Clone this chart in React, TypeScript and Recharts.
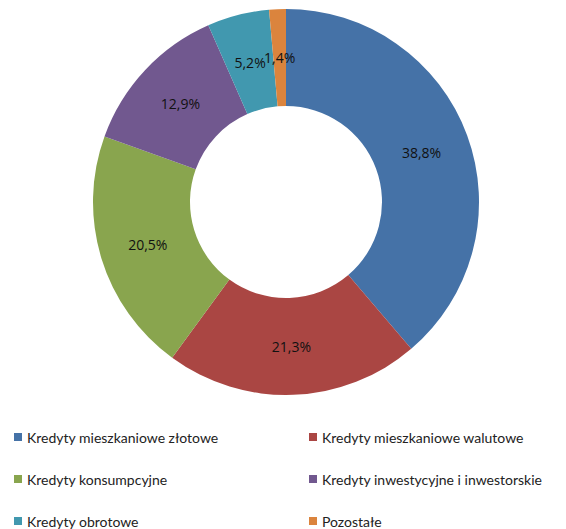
import { PieChart, Pie, Cell } from 'recharts';

const categories = [
  'Kredyty mieszkaniowe złotowe',
  'Kredyty mieszkaniowe walutowe',
  'Kredyty konsumpcyjne',
  'Kredyty inwestycyjne i inwestorskie',
  'Kredyty obrotowe',
  'Pozostałe',
];
const shares = [38.8, 21.3, 20.5, 12.9, 5.2, 1.4];
const colors = ['#4572A7', '#AA4643', '#89A54E', '#71588F', '#4198AF', '#DB843D'];

const data = categories.map((name, i) => ({ name, value: shares[i] }));

const RAD = Math.PI / 180;

const renderLabel = (p: any) => {
  const r = (p.innerRadius + p.outerRadius) / 2;
  const x = p.cx + r * Math.cos(-p.midAngle * RAD);
  const y = p.cy + r * Math.sin(-p.midAngle * RAD);
  return (
    <text
      x={x}
      y={y}
      textAnchor="middle"
      dominantBaseline="central"
      fill="#111"
      fontSize={14}
      fontFamily="'Open Sans', sans-serif"
    >
      {p.value.toFixed(1).replace('.', ',')}%
    </text>
  );
};

export default function App() {
  return (
    <div style={{ position: 'absolute', left: 0, top: 0, width: 566, height: 529, background: '#fff' }}>
      <PieChart width={566} height={410} margin={{ top: 0, right: 0, bottom: 0, left: 0 }}>
        <Pie
          data={data}
          dataKey="value"
          nameKey="name"
          cx={286}
          cy={202}
          innerRadius={96}
          outerRadius={193}
          startAngle={90}
          endAngle={-270}
          stroke="none"
          label={renderLabel}
          labelLine={false}
          isAnimationActive={false}
        >
          {data.map((d, i) => (
            <Cell key={d.name} fill={colors[i]} />
          ))}
        </Pie>
      </PieChart>
      <div
        style={{
          position: 'absolute',
          left: 0,
          top: 416,
          display: 'grid',
          gridTemplateColumns: '295px 271px',
          fontFamily: 'Lato, sans-serif',
          fontSize: 14,
          color: '#222',
        }}
      >
        {categories.map((c, i) => (
          <div key={c} style={{ display: 'flex', alignItems: 'center', height: 42, paddingLeft: 14, whiteSpace: 'nowrap' }}>
            <span style={{ width: 8, height: 8, background: colors[i], marginRight: 5, display: 'inline-block' }} />
            <span>{c}</span>
          </div>
        ))}
      </div>
    </div>
  );
}
